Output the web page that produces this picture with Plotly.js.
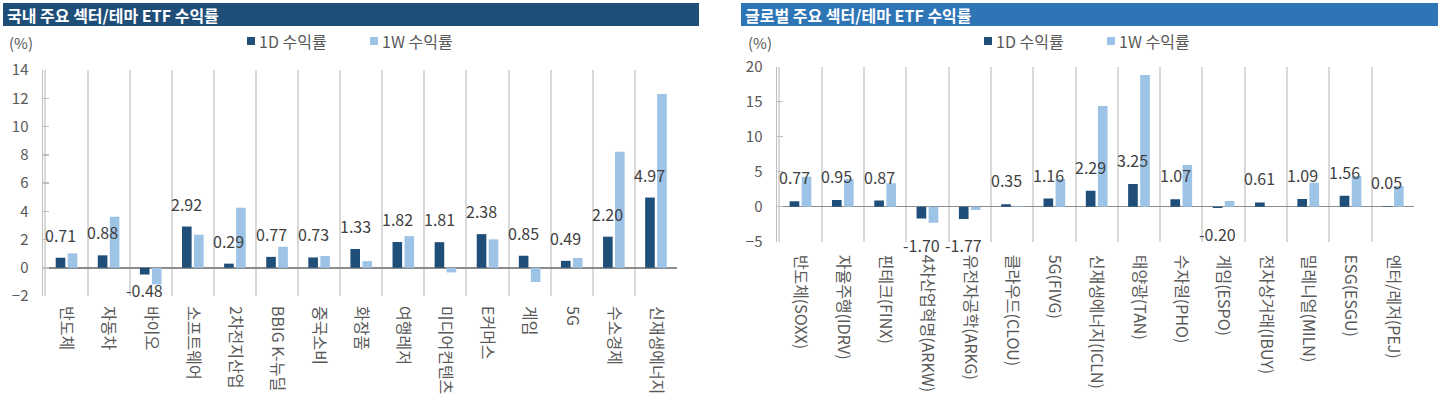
<!DOCTYPE html>
<html><head><meta charset="utf-8">
<script src="https://cdn.plot.ly/plotly-3.0.1.min.js"></script>
<style>html,body{margin:0;padding:0;background:#fff}#chart{width:1441px;height:398px}</style>
</head><body><div id="chart"></div>
<script>
// ---- data ----
const krCategories = ['반도체','자동차','바이오','소프트웨어','2차전지산업','BBIG K-뉴딜','중국소비','화장품','여행레저','미디어컨텐츠','E커머스','게임','5G','수소경제','신재생에너지'];
const kr1D = [0.71, 0.88, -0.48, 2.92, 0.29, 0.77, 0.73, 1.33, 1.82, 1.81, 2.38, 0.85, 0.49, 2.20, 4.97];
const kr1W = [1.02, 3.61, -1.18, 2.34, 4.25, 1.49, 0.83, 0.47, 2.24, -0.33, 2.01, -1.01, 0.69, 8.21, 12.30];

const glCategories = ['반도체(SOXX)','자율주행(IDRV)','핀테크(FINX)','4차산업혁명(ARKW)','유전자공학(ARKG)','클라우드(CLOU)','5G(FIVG)','신재생에너지(ICLN)','태양광(TAN)','수자원(PHO)','게임(ESPO)','전자상거래(IBUY)','밀레니얼(MILN)','ESG(ESGU)','엔터/레저(PEJ)'];
const gl1D = [0.77, 0.95, 0.87, -1.70, -1.77, 0.35, 1.16, 2.29, 3.25, 1.07, -0.20, 0.61, 1.09, 1.56, 0.05];
const gl1W = [4.29, 3.95, 3.34, -2.29, -0.47, 0.08, 3.96, 14.40, 18.80, 5.96, 0.80, 0.00, 3.43, 4.39, 2.96];

const seriesNames = ['1D 수익률', '1W 수익률'];
const leftTitle = '국내 주요 섹터/테마 ETF 수익률';
const rightTitle = '글로벌 주요 섹터/테마 ETF 수익률';

// ---- style ----
const W = 1441, H = 398;
const DARK = '#1f4e79', LIGHT = '#9dc3e6';
const FONT = '"Noto Sans CJK KR", "Noto Sans", sans-serif';
const TXT = '#595959', LBL = '#404040';
const px = v => v / W, py = v => (H - v) / H;

const traces = [
  {type:'bar', x:krCategories, y:kr1D, name:seriesNames[0], marker:{color:DARK}, xaxis:'x', yaxis:'y', showlegend:false, hoverinfo:'skip'},
  {type:'bar', x:krCategories, y:kr1W, name:seriesNames[1], marker:{color:LIGHT}, xaxis:'x', yaxis:'y', showlegend:false, hoverinfo:'skip'},
  {type:'bar', x:glCategories, y:gl1D, name:seriesNames[0], marker:{color:DARK}, xaxis:'x2', yaxis:'y2', showlegend:false, hoverinfo:'skip'},
  {type:'bar', x:glCategories, y:gl1W, name:seriesNames[1], marker:{color:LIGHT}, xaxis:'x2', yaxis:'y2', showlegend:false, hoverinfo:'skip'}
];

const annotations = [];
const shapes = [];

// data labels for 1D
kr1D.forEach((v,i) => annotations.push({xref:'x', yref:'y', x:krCategories[i], y:v, text:v.toFixed(2),
  showarrow:false, xshift:-6, yshift: v >= 0 ? 23 : -15, yanchor:'middle', font:{family:FONT, size:16, color:LBL}}));
gl1D.forEach((v,i) => annotations.push({xref:'x2', yref:'y2', x:glCategories[i], y:v, text:v.toFixed(2),
  showarrow:false, xshift:-6, yshift: v >= 0 ? 24 : -26, yanchor:'middle', font:{family:FONT, size:16, color:LBL}}));

// title bars
shapes.push({type:'rect', xref:'paper', yref:'paper', x0:px(3), x1:px(699), y0:py(26), y1:py(3), fillcolor:DARK, line:{width:0}, layer:'below'});
shapes.push({type:'rect', xref:'paper', yref:'paper', x0:px(741), x1:px(1438), y0:py(26), y1:py(3), fillcolor:'#2e75b6', line:{width:0}, layer:'below'});
annotations.push({xref:'paper', yref:'paper', x:px(5), y:py(14.5), xanchor:'left', yanchor:'middle', showarrow:false,
  text:'<b>'+leftTitle+'</b>', font:{family:FONT, size:16, color:'#ffffff'}});
annotations.push({xref:'paper', yref:'paper', x:px(743), y:py(14.5), xanchor:'left', yanchor:'middle', showarrow:false,
  text:'<b>'+rightTitle+'</b>', font:{family:FONT, size:16, color:'#ffffff'}});

// (%) unit labels
annotations.push({xref:'paper', yref:'paper', x:px(7), y:py(43), xanchor:'left', yanchor:'middle', showarrow:false,
  text:'(%)', font:{family:FONT, size:15, color:TXT}});
annotations.push({xref:'paper', yref:'paper', x:px(746), y:py(43), xanchor:'left', yanchor:'middle', showarrow:false,
  text:'(%)', font:{family:FONT, size:15, color:TXT}});

// legends
function legendItem(mx, color, label) {
  shapes.push({type:'rect', xref:'paper', yref:'paper', x0:px(mx), x1:px(mx+8), y0:py(45), y1:py(37), fillcolor:color, line:{width:0}});
  annotations.push({xref:'paper', yref:'paper', x:px(mx+10), y:py(41), xanchor:'left', yanchor:'middle', showarrow:false,
    text:label, font:{family:FONT, size:16, color:TXT}});
}
legendItem(247, DARK, seriesNames[0]);
legendItem(370, LIGHT, seriesNames[1]);
legendItem(984, DARK, seriesNames[0]);
legendItem(1107, LIGHT, seriesNames[1]);

const xBase = {type:'category', tickson:'boundaries', showgrid:true, gridcolor:'#d9d9d9', gridwidth:2,
  ticks:'', tickangle:90, showline:false, zeroline:false, fixedrange:true,
  tickfont:{family:FONT, size:16, color:TXT}};
const yBase = {showgrid:false, zeroline:true, zerolinecolor:'#8c8c8c', zerolinewidth:1.5,
  showline:true, linecolor:'#bfbfbf', linewidth:1.5, ticks:'inside', ticklen:6, tickcolor:'#bfbfbf', tickwidth:1.5,
  fixedrange:true, tickfont:{family:FONT, size:15, color:TXT}, ticklabelstandoff:10};

const layout = {
  width:W, height:H, margin:{l:0, r:0, t:0, b:0},
  paper_bgcolor:'#ffffff', plot_bgcolor:'#ffffff',
  barmode:'group', bargap:0.43, bargroupgap:0.2,
  xaxis: Object.assign({}, xBase, {domain:[px(43), px(677)], anchor:'y', ticklabelstandoff:9}),
  yaxis: Object.assign({}, yBase, {domain:[py(296), py(70)], anchor:'x', range:[-2,14], dtick:2, tick0:0}),
  xaxis2: Object.assign({}, xBase, {domain:[px(777), px(1414)], anchor:'y2', ticklabelstandoff:12}),
  yaxis2: Object.assign({}, yBase, {domain:[py(241.7), py(66.7)], anchor:'x2', range:[-5,20], dtick:5, tick0:0}),
  annotations: annotations,
  shapes: shapes,
  font:{family:FONT}
};

Plotly.newPlot('chart', traces, layout, {staticPlot:true, displayModeBar:false});
</script>
</body></html>
